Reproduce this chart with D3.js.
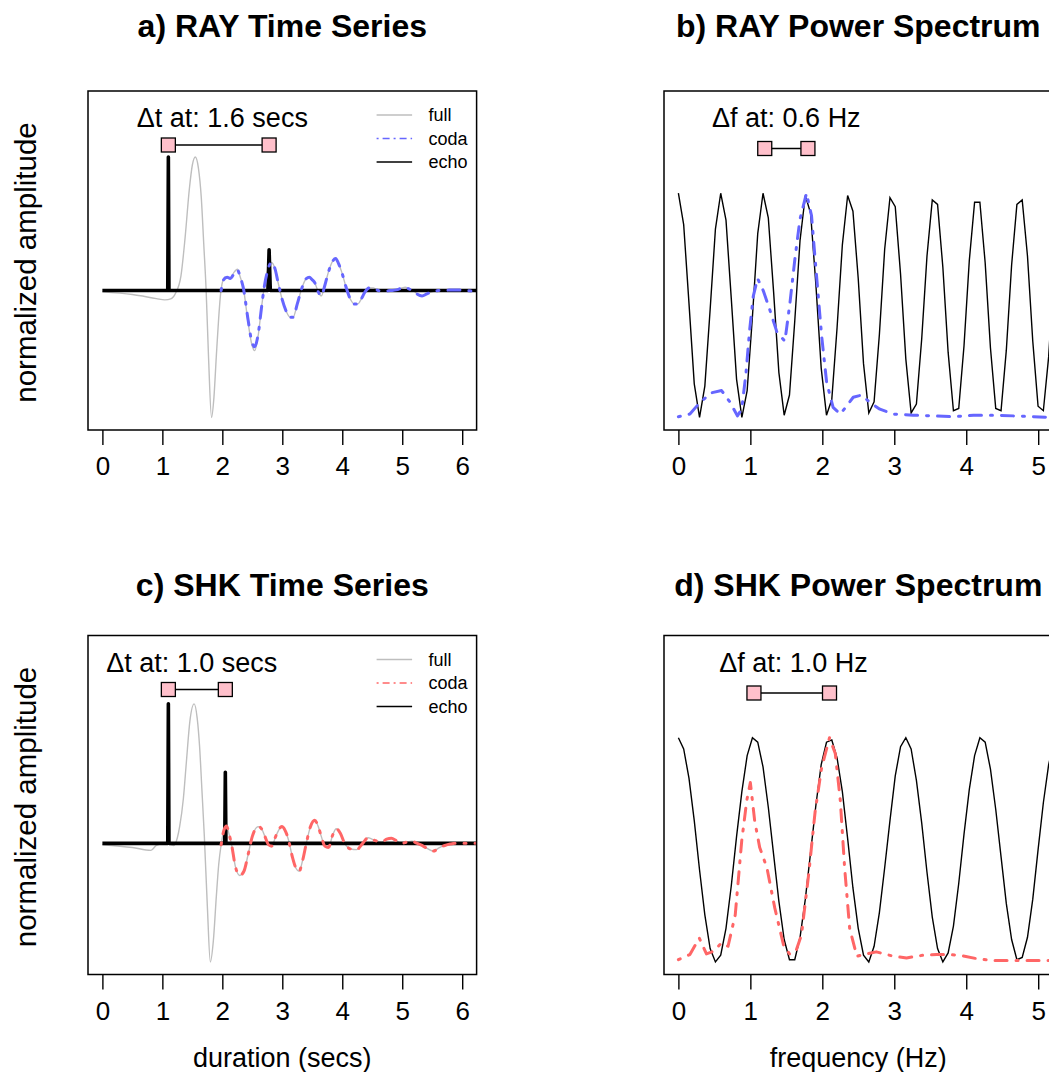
<!DOCTYPE html>
<html>
<head>
<meta charset="utf-8">
<script src="https://cdn.jsdelivr.net/npm/d3@7"></script>
<style>
  body { margin: 0; background: #fff; }
  text { font-family: "Liberation Sans", Arial, Helvetica, sans-serif; fill: #000; }
</style>
</head>
<body>
<svg id="chart" width="1049" height="1072"></svg>
<script>
// ---- data ----

// time series: [seconds, normalized amplitude]
const rayFull = [[0,-0.01],[0.5,-0.03],[0.9,-0.06],[1.04,-0.07],[1.15,-0.06],[1.22,-0.02],[1.31,0.11],[1.38,0.40],
  [1.45,0.76],[1.5,0.94],[1.55,1.0],[1.6,0.92],[1.65,0.69],[1.69,0.35],[1.73,0.0],[1.77,-0.5],[1.82,-0.95],
  [1.86,-0.80],[1.9,-0.49],[1.94,-0.2],[1.98,0.01],[2.04,0.10],[2.12,0.09],[2.2,0.14],[2.25,0.16],[2.3,0.1],
  [2.35,0.02],[2.43,-0.24],[2.49,-0.40],[2.54,-0.45],[2.6,-0.33],[2.65,-0.14],[2.7,0.03],[2.75,0.14],[2.82,0.21],
  [2.88,0.16],[2.93,0.06],[3.0,-0.07],[3.07,-0.16],[3.13,-0.2],[3.18,-0.2],[3.25,-0.1],[3.32,0.01],[3.4,0.09],
  [3.45,0.1],[3.5,0.08],[3.54,0.06],[3.6,-0.01],[3.65,-0.04],[3.71,0.04],[3.77,0.14],[3.84,0.22],[3.89,0.24],
  [3.94,0.2],[3.99,0.14],[4.06,0.03],[4.13,-0.06],[4.2,-0.1],[4.26,-0.1],[4.32,-0.06],[4.38,-0.01],[4.45,0.02],
  [4.52,0.02],[4.6,0.0],[4.7,-0.005],[4.8,0.0],[4.9,0.005],[5.0,0.02],[5.05,0.025],[5.12,0.01],[5.19,0.0],
  [5.26,-0.03],[5.33,-0.04],[5.41,-0.025],[5.49,-0.01],[5.6,0.0],[5.75,0.003],[5.9,0.005],[6.05,0.0],[6.3,-0.01]];
const rayCoda = [[1.98,0.0],[2.02,0.08],[2.08,0.1],[2.13,0.09],[2.2,0.13],[2.25,0.155],[2.3,0.1],[2.35,0.02],
  [2.43,-0.22],[2.49,-0.38],[2.54,-0.42],[2.6,-0.32],[2.65,-0.14],[2.7,0.03],[2.75,0.14],[2.82,0.21],[2.88,0.16],
  [2.93,0.06],[3.0,-0.07],[3.07,-0.16],[3.13,-0.2],[3.18,-0.2],[3.25,-0.1],[3.32,0.01],[3.4,0.09],[3.45,0.1],
  [3.5,0.08],[3.54,0.06],[3.6,-0.01],[3.65,-0.04],[3.71,0.04],[3.77,0.14],[3.84,0.22],[3.89,0.24],[3.94,0.2],
  [3.99,0.14],[4.06,0.03],[4.13,-0.06],[4.2,-0.1],[4.26,-0.1],[4.32,-0.06],[4.38,-0.01],[4.45,0.02],[4.52,0.02],
  [4.6,0.0],[4.7,-0.005],[4.8,0.0],[4.9,0.005],[5.0,0.02],[5.05,0.025],[5.12,0.01],[5.19,0.0],[5.26,-0.03],
  [5.33,-0.04],[5.41,-0.025],[5.49,-0.01],[5.6,0.0],[5.75,0.003],[5.9,0.005],[6.05,0.0],[6.3,-0.01]];
const rayEcho = [[0,0],[1.09,0],[1.1,1.0],[1.11,0],[2.76,0],[2.78,0.305],[2.8,0],[6.3,0]];

const shkFull = [[0,-0.01],[0.5,-0.03],[0.81,-0.05],[0.9,-0.015],[1.04,0.0],[1.19,-0.015],[1.25,0.04],[1.29,0.125],
  [1.35,0.32],[1.4,0.58],[1.46,0.88],[1.53,1.0],[1.58,0.9],[1.62,0.7],[1.66,0.38],[1.7,0.05],[1.75,-0.45],
  [1.8,-0.85],[1.85,-0.7],[1.9,-0.38],[1.94,-0.15],[1.98,-0.01],[2.03,0.1],[2.07,0.125],[2.11,0.07],[2.15,0.0],
  [2.22,-0.17],[2.29,-0.23],[2.36,-0.2],[2.43,-0.08],[2.5,0.05],[2.6,0.12],[2.66,0.1],[2.71,0.05],[2.77,-0.01],
  [2.82,-0.02],[2.9,0.06],[2.99,0.12],[3.05,0.09],[3.1,0.03],[3.17,-0.1],[3.23,-0.18],[3.28,-0.2],[3.34,-0.12],
  [3.4,0.0],[3.47,0.12],[3.54,0.165],[3.6,0.12],[3.65,0.05],[3.71,-0.02],[3.77,-0.03],[3.84,0.06],[3.9,0.105],
  [3.97,0.07],[4.04,0.0],[4.14,-0.04],[4.24,-0.045],[4.34,0.0],[4.43,0.04],[4.55,0.02],[4.66,0.01],[4.74,0.03],
  [4.82,0.036],[4.9,0.02],[4.99,0.0],[5.08,0.01],[5.16,0.015],[5.25,0.0],[5.33,-0.015],[5.43,-0.04],[5.52,-0.055],
  [5.62,-0.03],[5.71,-0.015],[5.8,-0.005],[5.88,0.0],[6.05,0.0],[6.3,0.0]];
const shkCoda = [[1.98,-0.01],[2.03,0.1],[2.07,0.125],[2.11,0.07],[2.15,0.0],[2.22,-0.17],[2.29,-0.23],[2.36,-0.2],
  [2.43,-0.08],[2.5,0.05],[2.6,0.12],[2.66,0.1],[2.71,0.05],[2.77,-0.01],[2.82,-0.02],[2.9,0.06],[2.99,0.12],
  [3.05,0.09],[3.1,0.03],[3.17,-0.1],[3.23,-0.18],[3.28,-0.2],[3.34,-0.12],[3.4,0.0],[3.47,0.12],[3.54,0.165],
  [3.6,0.12],[3.65,0.05],[3.71,-0.02],[3.77,-0.03],[3.84,0.06],[3.9,0.105],[3.97,0.07],[4.04,0.0],[4.14,-0.04],
  [4.24,-0.045],[4.34,0.0],[4.43,0.04],[4.55,0.02],[4.66,0.01],[4.74,0.03],[4.82,0.036],[4.9,0.02],[4.99,0.0],
  [5.08,0.01],[5.16,0.015],[5.25,0.0],[5.33,-0.015],[5.43,-0.04],[5.52,-0.055],[5.62,-0.03],[5.71,-0.015],
  [5.8,-0.005],[5.88,0.0],[6.05,0.0],[6.3,0.0]];
const shkEcho = [[0,0],[1.09,0],[1.1,1.0],[1.11,0],[2.04,0],[2.05,0.51],[2.06,0],[6.3,0]];

// power spectra of the echo, sampled every specStep Hz
const specStep = 0.0735;
const rayEchoSpec = [1.00,0.86,0.51,0.15,0.00,0.14,0.48,0.84,1.00,0.88,0.53,0.17,0.00,0.12,0.45,0.82,1.00,0.89,
  0.56,0.20,0.01,0.10,0.43,0.79,0.99,0.91,0.59,0.22,0.01,0.08,0.40,0.77,0.99,0.92,0.62,0.24,0.02,0.07,0.37,0.75,
  0.98,0.94,0.64,0.26,0.02,0.06,0.35,0.72,0.97,0.95,0.67,0.29,0.03,0.04,0.32,0.70,0.96,0.96,0.69,0.31,0.04,0.03,
  0.30,0.68,0.95,0.97,0.72,0.34,0.05,0.03,0.27,0.65];
const shkEchoSpec = [1.00,0.95,0.82,0.63,0.41,0.21,0.06,0.00,0.03,0.15,0.34,0.56,0.76,0.92,1.00,0.98,0.87,0.69,
  0.48,0.27,0.10,0.01,0.01,0.11,0.28,0.49,0.70,0.88,0.98,0.99,0.91,0.76,0.55,0.33,0.15,0.03,0.00,0.07,0.22,0.42,
  0.63,0.83,0.96,1.00,0.95,0.81,0.62,0.40,0.20,0.06,0.00,0.04,0.16,0.35,0.57,0.77,0.92,1.00,0.98,0.86,0.68,0.47,
  0.26,0.10,0.01,0.02,0.11,0.28,0.50,0.71,0.88,0.98];

// power spectra of the coda: [Hz, normalized power]
const rayCodaSpec = [[0,0.003],[0.16,0.015],[0.3,0.067],[0.46,0.11],[0.6,0.12],[0.72,0.067],[0.82,0.007],
  [0.88,0.037],[0.94,0.2],[0.99,0.39],[1.04,0.54],[1.1,0.62],[1.18,0.565],[1.27,0.48],[1.37,0.38],[1.48,0.34],
  [1.55,0.51],[1.62,0.71],[1.69,0.885],[1.78,1.0],[1.85,0.9],[1.92,0.63],[1.99,0.365],[2.06,0.156],[2.15,0.045],
  [2.25,0.015],[2.34,0.052],[2.43,0.09],[2.55,0.1],[2.66,0.067],[2.8,0.037],[2.99,0.015],[3.26,0.01],[3.54,0.007],
  [3.82,0.003],[4.1,0.01],[4.375,0.01],[4.65,0.007],[5.2,0.0]];
const shkCodaSpec = [[0,0.01],[0.16,0.033],[0.29,0.107],[0.39,0.036],[0.49,0.048],[0.6,0.085],[0.69,0.07],
  [0.79,0.21],[0.88,0.54],[0.95,0.72],[1.0,0.8],[1.06,0.63],[1.13,0.51],[1.23,0.42],[1.34,0.24],[1.46,0.077],
  [1.55,0.033],[1.64,0.055],[1.71,0.12],[1.81,0.39],[1.9,0.67],[1.99,0.866],[2.1,1.0],[2.18,0.93],[2.25,0.72],
  [2.31,0.42],[2.38,0.15],[2.48,0.025],[2.57,0.033],[2.75,0.045],[2.99,0.025],[3.17,0.018],[3.4,0.03],[3.59,0.033],
  [3.77,0.033],[3.94,0.028],[4.14,0.015],[4.375,0.006],[4.65,0.006],[5.2,0.006]];

// interval markers (echo delay / spectral spacing)
const rayDelayMarks = [1.1, 2.78];
const rayFreqMarks = [1.2, 1.8];
const shkDelayMarks = [1.1, 2.05];
const shkFreqMarks = [1.05, 2.1];

const titles = ['a) RAY Time Series', 'b) RAY Power Spectrum', 'c) SHK Time Series', 'd) SHK Power Spectrum'];
const deltaLabels = ['\u0394t at: 1.6 secs', '\u0394f at: 0.6 Hz', '\u0394t at: 1.0 secs', '\u0394f at: 1.0 Hz'];
const legendLabels = ['full', 'coda', 'echo'];
const timeTicks = [0, 1, 2, 3, 4, 5, 6];
const freqTicks = [0, 1, 2, 3, 4, 5];

// ---- layout ----
const BOX_W = 388.6;
const BOX_H = 339;
const FONT = 26;
const BLUE = '#6666ff';
const RED = '#ff6666';
const GRAY = '#bebebe';

const svg = d3.select('#chart');

const panels = [
  { kind: 'time', left: 88, top: 91, xMax: 6, ticks: timeTicks, full: rayFull, coda: rayCoda, echo: rayEcho,
    color: BLUE, marks: rayDelayMarks, labelAt: 2.0, ylab: true },
  { kind: 'spec', left: 664, top: 91, xMax: 5, ticks: freqTicks, echo: rayEchoSpec, coda: rayCodaSpec,
    color: BLUE, marks: rayFreqMarks, labelAt: 1.5 },
  { kind: 'time', left: 88, top: 635.5, xMax: 6, ticks: timeTicks, full: shkFull, coda: shkCoda, echo: shkEcho,
    color: RED, marks: shkDelayMarks, labelAt: 1.49, ylab: true, xlab: 'duration (secs)' },
  { kind: 'spec', left: 664, top: 635.5, xMax: 5, ticks: freqTicks, echo: shkEchoSpec, coda: shkCodaSpec,
    color: RED, marks: shkFreqMarks, labelAt: 1.6, xlab: 'frequency (Hz)' }
];

const titleBaseline = [36.5, 36.5, 596, 596];

panels.forEach((p, i) => {
  // R style limits: 4% padding around xlim / ylim
  const x = d3.scaleLinear()
    .domain([-0.04 * p.xMax, 1.04 * p.xMax])
    .range([p.left, p.left + BOX_W]);
  const ylim = p.kind === 'time' ? [d3.min(p.full, d => d[1]), 1.4] : [0, 1.4];
  const pad = 0.04 * (ylim[1] - ylim[0]);
  const y = d3.scaleLinear()
    .domain([ylim[0] - pad, ylim[1] + pad])
    .range([p.top + BOX_H, p.top]);

  const g = svg.append('g').attr('class', 'panel-' + i);

  svg.append('clipPath').attr('id', 'clip' + i)
    .append('rect')
      .attr('x', p.left).attr('y', p.top)
      .attr('width', BOX_W).attr('height', BOX_H);

  const plot = g.append('g').attr('clip-path', `url(#clip${i})`);
  const line = d3.line().x(d => x(d[0])).y(d => y(d[1]));
  const smooth = d3.line().x(d => x(d[0])).y(d => y(d[1])).curve(d3.curveMonotoneX);

  if (p.kind === 'time') {
    plot.append('path')
      .attr('d', smooth(p.full))
      .attr('fill', 'none').attr('stroke', GRAY).attr('stroke-width', 1.4);
    plot.append('path')
      .attr('d', line(p.echo))
      .attr('fill', 'none').attr('stroke', '#000').attr('stroke-width', 3.6)
      .attr('stroke-linejoin', 'round');
    plot.append('path')
      .attr('d', smooth(p.coda))
      .attr('fill', 'none').attr('stroke', p.color).attr('stroke-width', 3)
      .attr('stroke-dasharray', '2,9,12,9').attr('stroke-linecap', 'round');
  } else {
    const echoPts = p.echo.map((v, k) => [k * specStep, v]);
    plot.append('path')
      .attr('d', line(echoPts))
      .attr('fill', 'none').attr('stroke', '#000').attr('stroke-width', 1.4);
    plot.append('path')
      .attr('d', line(p.coda))
      .attr('fill', 'none').attr('stroke', p.color).attr('stroke-width', 3)
      .attr('stroke-dasharray', '2,9,12,9').attr('stroke-linecap', 'round')
      .attr('stroke-linejoin', 'round');
  }

  // box
  g.append('rect')
    .attr('x', p.left).attr('y', p.top)
    .attr('width', BOX_W).attr('height', BOX_H)
    .attr('fill', 'none').attr('stroke', '#000').attr('stroke-width', 1.5);

  // bottom axis only
  const axis = d3.axisBottom(x)
    .tickValues(p.ticks)
    .tickSize(15)
    .tickPadding(12)
    .tickFormat(d3.format('d'));
  const ax = g.append('g')
    .attr('transform', `translate(0,${p.top + BOX_H})`)
    .call(axis);
  ax.select('.domain').remove();
  ax.attr('font-size', null).attr('font-family', null);
  ax.selectAll('line').attr('stroke-width', 1.4);
  ax.selectAll('text').attr('font-size', FONT);

  // title
  g.append('text')
    .attr('x', p.left + BOX_W / 2).attr('y', titleBaseline[i])
    .attr('text-anchor', 'middle')
    .attr('font-weight', 'bold').attr('font-size', 32)
    .text(titles[i]);

  if (p.ylab) {
    g.append('text')
      .attr('transform', `translate(36,${p.top + BOX_H / 2 + 2}) rotate(-90)`)
      .attr('text-anchor', 'middle').attr('font-size', 29.5)
      .text('normalized amplitude');
  }
  if (p.xlab) {
    g.append('text')
      .attr('x', p.left + BOX_W / 2).attr('y', p.top + BOX_H + 92)
      .attr('text-anchor', 'middle').attr('font-size', 27)
      .text(p.xlab);
  }

  // delta marker: label, connecting line, two squares
  const markY = p.top + (p.kind === 'time' ? 54 : 57.5);
  g.append('text')
    .attr('x', x(p.labelAt)).attr('y', p.top + 36)
    .attr('text-anchor', 'middle').attr('font-size', 27)
    .text(deltaLabels[i]);
  g.append('line')
    .attr('x1', x(p.marks[0])).attr('x2', x(p.marks[1]))
    .attr('y1', markY).attr('y2', markY)
    .attr('stroke', '#000').attr('stroke-width', 1.3);
  g.selectAll('.mark').data(p.marks).enter()
    .append('rect')
      .attr('class', 'mark')
      .attr('x', d => x(d) - 7).attr('y', markY - 7)
      .attr('width', 14).attr('height', 14)
      .attr('fill', '#ffc0cb').attr('stroke', '#000').attr('stroke-width', 1.3);

  // legend (time series panels)
  if (p.kind === 'time') {
    const right = p.left + BOX_W;
    const styles = [
      { stroke: GRAY, dash: null },
      { stroke: p.color, dash: '2,4,7,4' },
      { stroke: '#000', dash: null }
    ];
    legendLabels.forEach((lab, j) => {
      const ly = p.top + 24 + j * 23.5;
      g.append('line')
        .attr('x1', right - 100).attr('x2', right - 64.5)
        .attr('y1', ly).attr('y2', ly)
        .attr('stroke', styles[j].stroke).attr('stroke-width', 1.4)
        .attr('stroke-dasharray', styles[j].dash);
      g.append('text')
        .attr('x', right - 48).attr('y', ly)
        .attr('dy', '0.35em').attr('font-size', 18)
        .text(lab);
    });
  }
});
</script>
</body>
</html>
